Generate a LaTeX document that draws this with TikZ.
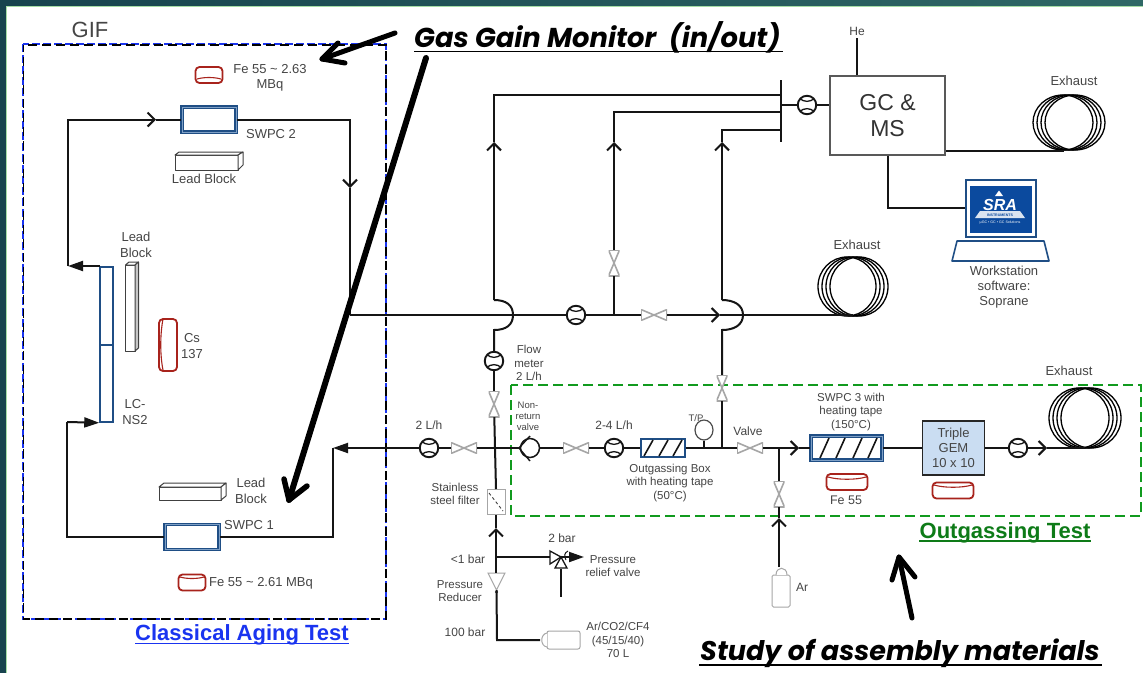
\documentclass[tikz,border=0pt]{standalone}
\usepackage{fontspec}
\setmainfont{Liberation Sans}
\newfontfamily\annf{Poppins}
\usetikzlibrary{arrows.meta,calc,shapes.geometric}
\definecolor{lab}{HTML}{454545}
\definecolor{pipec}{HTML}{151515}
\definecolor{swpcb}{HTML}{1F4E85}
\definecolor{swpci}{HTML}{7FA0C6}
\definecolor{srcred}{HTML}{A8231C}
\definecolor{gifblue}{HTML}{1A34F0}
\definecolor{gasgreen}{HTML}{119A1E}
\definecolor{gemfill}{HTML}{CADDF2}
\definecolor{teala}{HTML}{17434E}
\definecolor{tealb}{HTML}{2F6866}
\definecolor{edgeg}{HTML}{A5DCA5}
\definecolor{srab}{HTML}{0B4A9E}
\tikzset{
 pipe/.style={line width=2pt,draw=pipec,line join=miter},
 thinpipe/.style={line width=1.4pt,draw=pipec},
 openarr/.style={-{Straight Barb[length=7pt,width=14pt]}},
 solidarr/.style={-{Triangle[length=15pt,width=10pt]}},
 flowm/.style={circle,draw=pipec,line width=1.9pt,fill=white,minimum size=18.5pt,inner sep=0pt,
  path picture={
   \coordinate (pc) at (path picture bounding box.center);
   \draw[pipec,line width=1.3pt] ([shift={(-8,-7)}]pc) .. controls ([shift={(-3,-2.5)}]pc) and ([shift={(3,-2.5)}]pc) .. ([shift={(8,-7)}]pc);
   \draw[pipec,line width=1.3pt] ([shift={(-8,7)}]pc) .. controls ([shift={(-3,2.5)}]pc) and ([shift={(3,2.5)}]pc) .. ([shift={(8,7)}]pc);
  }},
 valveh/.style={rectangle,minimum width=26pt,minimum height=11pt,inner sep=0pt,
  path picture={\draw[gray!70,line width=1.6pt,fill=white] (path picture bounding box.north west) -- (path picture bounding box.south east) -- (path picture bounding box.north east) -- (path picture bounding box.south west) -- cycle;}},
 valvev/.style={rectangle,minimum width=11pt,minimum height=26pt,inner sep=0pt,
  path picture={\draw[gray!70,line width=1.6pt,fill=white] (path picture bounding box.north west) -- (path picture bounding box.south east) -- (path picture bounding box.south west) -- (path picture bounding box.north east) -- cycle;}},
 swpc/.style={rectangle,draw=swpcb,double=swpci,double distance=.7pt,line width=1.6pt,fill=white,inner sep=0pt},
 source/.style={rectangle,rounded corners=4pt,draw=srcred,line width=1.8pt,fill=white,inner sep=0pt},
 srcline/.style={draw=srcred,line width=1.1pt},
 leadb/.style={draw=black!75,line width=1pt,fill=white,line join=round},
 lbl/.code={\pgfmathsetmacro\lblskip{#1*1.18}\tikzset{text=lab,align=center,inner sep=0pt,font=\fontsize{#1}{\lblskip}\selectfont}},
 big/.style={black,line width=#1,line cap=round,line join=round},
 ann/.style={black,inner sep=0pt,font=\annf\bfseries\itshape\fontsize{#1}{#1}\selectfont},
 titleb/.style={inner sep=0pt,font=\bfseries\fontsize{22}{23}\selectfont},
 hatch/.style={rectangle,draw=swpcb,fill=white,inner sep=0pt},
 gasb/.style={draw=gray!70,line width=1pt,fill=white,inner sep=0pt},
}
\newcommand{\coil}[4]{\foreach \d in {-6,-2,2,6}{\draw[black,line width=1.3pt] (#1+\d,#2) ellipse (#3 and #4);}}
\begin{document}
\begin{tikzpicture}[x=1pt,y=-1pt]
\useasboundingbox (0,0) rectangle (1143,673);
% frame
\fill[white] (0,0) rectangle (1143,673);
\fill[left color=teala,right color=tealb] (0,0) rectangle (1143,5.5);
\fill[teala] (0,0) rectangle (5.5,673);
\draw[edgeg,line width=.8pt] (6,673) -- (6,6) -- (1143,6);
% GIF box
\node[lbl=22] (gif) at (90,29.5) {GIF};
\draw[gifblue,line width=2.4pt,dash pattern=on 8pt off 3pt] (23,44) rectangle (386,619);
\draw[black,line width=1.6pt,dash pattern=on 9pt off 5pt,dash phase=2pt] (23.3,45) rectangle (386,619);
% Outgassing box
\draw[gasgreen,line width=2.8pt,dash pattern=on 10pt off 5pt] (511,385) rectangle (1141,516);
% Components left side
\node[swpc,minimum width=54pt,minimum height=25pt] (swpcB) at (209,119.5) {};
\node[swpc,minimum width=54pt,minimum height=25pt] (swpcA) at (192,537) {};
\node[rectangle,draw=swpcb,line width=1.5pt,fill=white,minimum width=13pt,minimum height=155pt,inner sep=0pt] (lc) at (106.5,344.5) {};
\draw[swpcb,line width=1.3pt] (100,345) -- (113,345);
% sources
\node[source,minimum width=27pt,minimum height=16pt] (srcTop) at (209,75) {};
\draw[srcline] (197,79) .. controls (204,77) and (214,77) .. (221,79);
\node[lbl=13] (srcTopL) at (270,78) {Fe 55 \textasciitilde\ 2.63\\MBq};
\node[source,minimum width=27pt,minimum height=16pt] (srcBot) at (192,582.5) {};
\draw[srcline] (180,577) .. controls (187,579) and (197,579) .. (204,577);
\node[lbl=13,anchor=west] (srcBotL) at (209,583.5) {Fe 55 \textasciitilde\ 2.61 MBq};
\node[source,minimum width=18pt,minimum height=52pt] (srcCs) at (168,345) {};
\draw[srcline] (163,319) .. controls (160,335) and (160,355) .. (163,370);
\node[lbl=13] (csL) at (192,346) {Cs\\137};
% lead blocks
\draw[leadb] (175,155) rectangle (238,170);
\draw[leadb] (175,155) -- (179,152) -- (243,152) -- (238,155) -- cycle;
\draw[leadb] (238,155) -- (243,152) -- (243,165) -- (238,170) -- cycle;
\node[lbl=13] (leadTop) at (204,179) {Lead Block};
\draw[leadb] (125.5,265) rectangle (135,351);
\draw[leadb] (125.5,265) -- (129,262) -- (138.5,262) -- (135,265) -- cycle;
\draw[leadb,fill=gray!45] (135,265) -- (138.5,262) -- (138.5,348) -- (135,351) -- cycle;
\node[lbl=13] (leadMid) at (136,245) {Lead\\Block};
\draw[leadb] (159,487) rectangle (221,500);
\draw[leadb] (159,487) -- (164,483) -- (226,483) -- (221,487) -- cycle;
\draw[leadb] (221,487) -- (226,483) -- (226,496) -- (221,500) -- cycle;
\node[lbl=13] (leadBot) at (251,491) {Lead\\Block};
\node[lbl=13] (swpcBL) at (271,134) {SWPC 2};
\node[lbl=13] (swpcAL) at (249,525) {SWPC 1};
\node[lbl=13] (lcL) at (135,412) {LC-\\NS2};
% left loop
\coordinate (tl) at (68,119.5);
\coordinate (ml) at (68,266);
\coordinate (lcT) at (100,266);
\coordinate (at1) at (156,119.5);
\draw[pipe,solidarr] (lcT) -- (ml);
\draw[pipe,openarr] (ml) -- (tl) -- (at1);
\draw[pipe] (at1) -- (swpcB.west);
\coordinate (tr) at (350,119.5);
\coordinate (at2) at (350,188);
\coordinate (jr) at (350,315);
\draw[pipe,openarr] (swpcB.east) -- (tr) -- (at2);
\draw[pipe] (at2) -- (jr);
\coordinate (bl) at (67,537);
\coordinate (ll) at (67,422);
\draw[pipe] (swpcA.west) -- (bl) -- (ll);
\draw[pipe,solidarr] (ll) -- (lc.south west);
\coordinate (br) at (333,537);
\coordinate (rt) at (333,448);
\draw[pipe] (swpcA.east) -- (br) -- (rt);
% Main components
\node[flowm] (fmL) at (429,448) {};
\node[valveh] (vL) at (464,448) {};
\coordinate (j1) at (495,448);
\node[flowm] (fmF) at (494,361) {};
\node[valvev] (vF) at (494,404) {};
\node[rectangle,draw=gray!70,line width=1pt,fill=white,minimum width=18pt,minimum height=25pt,inner sep=0pt] (filter) at (496,502) {};
\draw[black!75,line width=.9pt,dash pattern=on 3pt off 2.5pt] (489,493) -- (503,511);
\node[lbl=11.5] (filterL) at (455,494) {Stainless\\steel filter};
\node[circle,draw=pipec,line width=1.5pt,fill=white,minimum size=19pt,inner sep=0pt] (nr) at (530,448) {};
\draw[thinpipe] (530,436) -- (519,448) -- (530,461);
\node[valveh] (vM) at (576,448) {};
\node[flowm] (fmM) at (614,448) {};
\node[hatch,line width=1.4pt,minimum width=44pt,minimum height=18pt] (outb) at (663,448) {};
\foreach \hx in {649,664,678}{\draw[pipec,line width=1.6pt] (\hx-5,456) -- (\hx+4,440);}
\node[ellipse,draw=black!70,line width=1.2pt,fill=white,minimum width=18pt,minimum height=20pt,inner sep=0pt] (tp) at (704,430) {};
\coordinate (tpj) at (704,448);
\coordinate (j2) at (722,448);
\node[valveh] (vV) at (750,448) {};
\coordinate (j3) at (779,448);
\coordinate (at3) at (799,448);
\node[valvev] (vAr) at (779,494) {};
\node[swpc,minimum width=71pt,minimum height=24pt] (swpcC) at (846.5,448) {};
\foreach \hx in {825,841,858,873}{\draw[pipec,line width=1.6pt] (\hx-5,458) -- (\hx+4,438);}
\node[rectangle,draw=black!85,line width=1.8pt,fill=gemfill,minimum width=62pt,minimum height=54pt,inner sep=0pt,text=lab,align=center,font=\fontsize{13}{15}\selectfont] (gem) at (953.5,448) {Triple\\GEM\\10 x 10};
\node[flowm] (fmG) at (1018,448) {};
\coordinate (at4) at (1047,448);
\coil{1085}{418}{30}{30}
\coordinate (coilC) at (1085,448);
% lower left
\coordinate (at5) at (496,528);
\coordinate (j4) at (496,557);
\coordinate (prT) at (496.5,590);
\coordinate (bc) at (497,640);
\node[gasb,minimum width=33pt,minimum height=18pt,rounded corners=2pt] (bottle) at (563.5,640) {};
\draw[draw=gray!70,line width=1pt,fill=white] (547,633) .. controls (540,634) and (540,646) .. (547,647);
\draw[gray!70,line width=1pt,fill=white] (488,573) -- (505,573) -- (496.5,590) -- cycle;
\coordinate (rv) at (550,557);
\draw[pipe] (filter.north) -- (j1);
\draw[pipe,openarr] (j4) -- (at5);
\draw[pipe] (at5) -- (filter.south);
\draw[pipe] (j4) -- (496,573);
\draw[pipe] (prT) -- (bc) -- (540,640);
\draw[pipe] (j4) -- (rv);
\fill[pipec] (496.5,592) circle (1.6);
% relief valve
\coordinate (rvt) at (584,557);
\draw[pipe] (561,569) -- (561,597);
\draw[pipe,solidarr] (560,557) -- (rvt);
\draw[pipec,line width=1.3pt,fill=white] (550,551) -- (561,557) -- (550,564) -- cycle;
\draw[pipec,line width=1.3pt,fill=white] (561,557) -- (555,568) -- (567,568) -- cycle;
\draw[pipec,line width=1pt] (568,551) .. controls (564,553) and (564,556) .. (566,560);
% Ar bottle
\node[gasb,minimum width=18pt,minimum height=32pt,rounded corners=1.5pt] (ar) at (781,591) {};
\draw[draw=gray!70,line width=1pt,fill=white] (776,575) .. controls (776,566) and (787,566) .. (787,575);
\coordinate (at6) at (779,518);
\coordinate (arT) at (779,567);
\draw[pipe,openarr] (arT) -- (at6);
\draw[pipe] (at6) -- (vAr);
\draw[pipe] (vAr) -- (j3);
% Main line
\draw[pipe,solidarr] (fmL) -- (rt);
\draw[pipe] (fmL) -- (vL);
\draw[pipe] (vL) -- (j1) -- (nr);
\draw[pipe] (nr) -- (vM);
\draw[pipe] (vM) -- (fmM);
\draw[pipe] (fmM) -- (outb);
\draw[pipe] (outb) -- (tpj) -- (j2) -- (vV);
\draw[thinpipe] (tp) -- (tpj);
\draw[pipe] (vV) -- (j3);
\draw[pipe,openarr] (j3) -- (at3);
\draw[pipe] (at3) -- (swpcC);
\draw[pipe] (swpcC) -- (gem);
\draw[pipe] (gem) -- (fmG);
\draw[pipe,openarr] (fmG) -- (at4);
\draw[pipe] (at4) -- (coilC);
\draw[pipe] (fmF) -- (vF);
\draw[pipe] (vF) -- (j1);
% Upper network
\node[flowm] (fmB) at (576,315) {};
\coordinate (j5) at (614,315);
\node[valveh] (vB) at (654,315) {};
\coordinate (at7) at (720,315);
\coil{853}{286.5}{29}{29.5}
\coordinate (coilB) at (853,315);
\draw[pipe] (jr) -- (fmB);
\draw[pipe] (fmB) -- (j5) -- (vB);
\draw[pipe,openarr] (vB) -- (at7);
\draw[pipe] (at7) -- (coilB);
\node[valvev] (vC) at (614,263) {};
\coordinate (at8) at (614,142);
\coordinate (t2) at (614,112);
\coordinate (bus2) at (781,112);
\draw[pipe] (j5) -- (vC);
\draw[pipe,openarr] (vC) -- (at8);
\draw[pipe] (at8) -- (t2) -- (bus2);
\coordinate (bA1) at (494,330);
\coordinate (bA2) at (494,300);
\coordinate (at9) at (494,142);
\coordinate (t1) at (494,94.5);
\coordinate (bus1) at (781,94.5);
\draw[pipe] (fmF) -- (bA1) .. controls (506,330) and (513,325) .. (513,315) .. controls (513,305) and (506,300) .. (bA2);
\draw[pipe,openarr] (bA2) -- (at9);
\draw[pipe] (at9) -- (t1) -- (bus1);
\coordinate (bB1) at (722,330);
\coordinate (bB2) at (722,300);
\coordinate (at10) at (722,142);
\coordinate (t3) at (722,130);
\coordinate (bus3) at (781,130);
\node[valvev] (vD) at (722,388) {};
\draw[pipe] (j2) -- (vD);
\draw[pipe] (vD) -- (bB1) .. controls (734,330) and (743,325) .. (743,315) .. controls (743,305) and (734,300) .. (bB2);
\draw[pipe,openarr] (bB2) -- (at10);
\draw[pipe] (at10) -- (t3) -- (bus3);
\coordinate (busT) at (781,80);
\coordinate (busB) at (781,142);
\draw[pipe] (busT) -- (busB);
\node[rectangle,draw=black!65,line width=1.2pt,fill=white,minimum width=115pt,minimum height=79pt,inner sep=0pt,text=black!80,align=center,font=\fontsize{23}{26}\selectfont] (gc) at (887.5,115.5) {GC \&\\MS};
\node[flowm] (fmC) at (807,105) {};
\coordinate (busM) at (781,105);
\draw[pipe] (busM) -- (fmC);
\draw[pipe] (fmC) -- (fmC -| gc.west);
\node[lbl=12] (he) at (857,31) {He};
\coordinate (heB) at (857,38);
\draw[pipe] (heB) -- (heB |- gc.north);
\coil{1069}{122.5}{30}{27.5}
\coordinate (coilA) at (1064,150.5);
\draw[pipe] (gc.east |- coilA) -- (coilA);
\node[lbl=13] (exA) at (1074,81) {Exhaust};
\node[lbl=13] (exB) at (857,245) {Exhaust};
\node[lbl=13] (exC) at (1069,371) {Exhaust};
% Workstation
\node[rectangle,draw=swpcb,line width=1.4pt,fill=white,minimum width=70pt,minimum height=57pt,inner sep=0pt] (mon) at (1001,208.5) {};
\fill[srab] (969.5,186) rectangle (1032,233);
\coordinate (gcd) at (888,208);
\draw[pipe] (gc.south -| gcd) -- (gcd) -- (gcd -| mon.west);
\fill[white] (999,190.5) -- (1003,196) -- (995,196) -- cycle;
\node[text=white,inner sep=0pt,font=\bfseries\itshape\fontsize{16}{16}\selectfont] (sra) at (1000,205) {SRA};
\fill[white!85!srab] (980,211) -- (1020,211) -- (1025,218) -- (975,218) -- cycle;
\node[text=srab,inner sep=0pt,font=\bfseries\fontsize{3.6}{4}\selectfont] (srai) at (1000,215.5) {INSTRUMENTS};
\node[text=white,inner sep=0pt,font=\fontsize{3.6}{4}\selectfont] (srag) at (1000,222.5) {µGC • GC • GC Solutions};
\draw[swpcb,line width=1.6pt,line join=round,fill=white] (952,261) -- (957,241) -- (1044,241) -- (1049,261) -- cycle;
\node[lbl=13] (wsL) at (1004,287) {Workstation\\software:\\Soprane};
% Labels
\node[lbl=11.5] (fmFL) at (529,363) {Flow\\meter\\2 L/h};
\node[lbl=12] (l2) at (429,425) {2 L/h};
\node[lbl=12] (l24) at (614,425) {2-4 L/h};
\node[lbl=9.5] (nrL) at (528,416) {Non-\\return\\valve};
\node[lbl=9.5] (tpL) at (696,418) {T/P};
\node[lbl=12] (vLb) at (748,431) {Valve};
\node[lbl=11.5] (oL) at (670,483) {Outgassing Box\\with heating tape\\(50°C)};
\node[lbl=11.5] (sL) at (851,412) {SWPC 3 with\\heating tape\\(150°C)};
\node[source,minimum width=41pt,minimum height=16pt] (srcC) at (847,482) {};
\draw[srcline] (828,477) .. controls (838,480) and (856,480) .. (866,477);
\node[lbl=12.5] (srcCL) at (846,500) {Fe 55};
\node[source,minimum width=41pt,minimum height=16pt] (srcD) at (953,490.5) {};
\draw[srcline] (934,485) .. controls (944,488) and (962,488) .. (972,485);
\node[lbl=12] (ltb) at (468,559) {<1 bar};
\node[lbl=11.5] (prL) at (460,591) {Pressure\\Reducer};
\node[lbl=12] (hb) at (465,632) {100 bar};
\node[lbl=11.5] (gasL) at (618,640) {Ar/CO2/CF4\\(45/15/40)\\70 L};
\node[lbl=12] (tb) at (562,538) {2 bar};
\node[lbl=11.5] (prv) at (613,566) {Pressure\\relief valve};
\node[lbl=12] (arL) at (802,587) {Ar};
% Titles
\node[titleb,text=gifblue] (tCl) at (242,635) {Classical Aging Test};
\draw[gifblue,line width=1.2pt] (135,643.5) -- (349,643.5);
\node[titleb,text=gasgreen!80!black] (tOut) at (1005,533) {Outgassing Test};
\draw[gasgreen!80!black,line width=1.2pt] (919,541) -- (1091,541);
\node[ann=27.3,anchor=base west] (tGas) at (414,47) {Gas Gain Monitor\ \ (in/out)};
\draw[black,line width=1.6pt] (414,51.5) -- (783,51.5);
\node[ann=27,anchor=base west] (tStudy) at (700,660) {Study of assembly materials};
\draw[black,line width=1.6pt] (699,665) -- (1102,665);
% Big arrows
\coordinate (a1s) at (395,33);
\coordinate (a1t) at (322,59);
\draw[big=5pt] (a1s) -- (a1t);
\draw[big=5pt] (338,43) -- (a1t) -- (345,63);
\coordinate (a2s) at (426,58);
\coordinate (a2t) at (289,500);
\draw[big=6pt] (a2s) -- (a2t);
\draw[big=5.5pt] (284,479) -- (a2t) -- (307,486);
\coordinate (a3s) at (912,618);
\coordinate (a3t) at (899,557);
\draw[big=5pt] (a3s) -- (a3t);
\draw[big=5pt] (892,580) -- (a3t) -- (915,577);
\end{tikzpicture}
\end{document}
